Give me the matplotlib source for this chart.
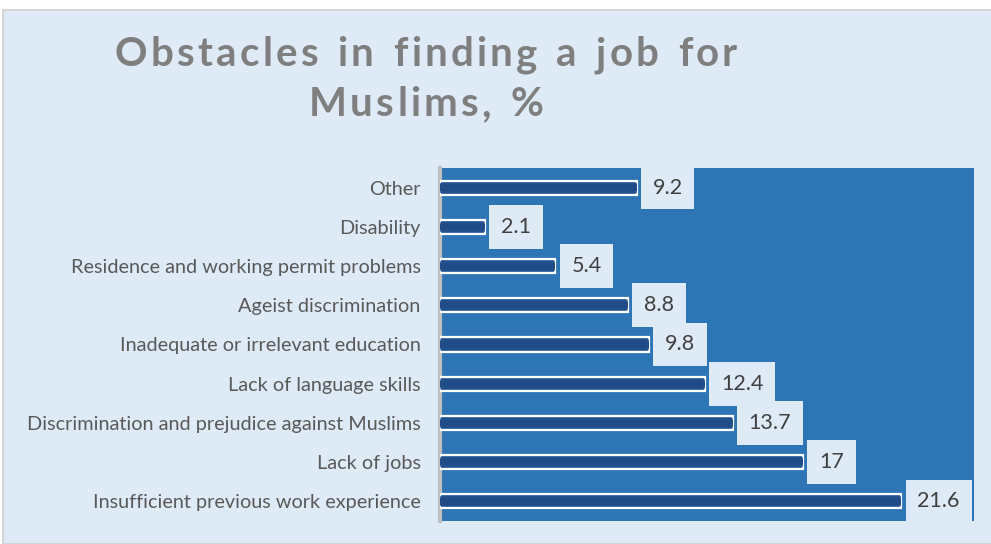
import matplotlib.pyplot as plt
from matplotlib.patches import Rectangle
import numpy as np

categories = [
    "Other",
    "Disability",
    "Residence and working permit problems",
    "Ageist discrimination",
    "Inadequate or irrelevant education",
    "Lack of language skills",
    "Discrimination and prejudice against Muslims",
    "Lack of jobs",
    "Insufficient previous work experience",
]
values = [9.2, 2.1, 5.4, 8.8, 9.8, 12.4, 13.7, 17, 21.6]
value_labels = ["9.2", "2.1", "5.4", "8.8", "9.8", "12.4", "13.7", "17", "21.6"]
title_lines = ["Obstacles in finding a job for", "Muslims, %"]

BG = "#DEEAF6"
PLOT_BG = "#2E75B6"
BAR_EDGE = "#2B5E9E"
BAR = "#1F4B87"
TITLE_C = "#7F7F7F"
TEXT_C = "#595959"

plt.rcParams["font.family"] = ["Lato", "DejaVu Sans"]

W, H = 991, 544
fig = plt.figure(figsize=(W / 100, H / 100), dpi=100)
fig.patch.set_facecolor("white")

# light blue chart area with thin grey border
fig.patches.append(Rectangle((3 / W, 0), 1, 1 - 10 / H, transform=fig.transFigure,
                             facecolor=BG, edgecolor="#D0D0D0", lw=1.2, zorder=-1))

ax = fig.add_axes([440 / W, 1 - 521 / H, 534 / W, 353 / H])
ax.set_zorder(2)
ax.set_facecolor(PLOT_BG)
y = np.arange(len(categories))
# soft-edged bars: lighter rim, darker core, white outline
ax.barh(y, values, height=0.36, color=BAR_EDGE, edgecolor="white", linewidth=1.6, zorder=3)
ax.barh(y, values, height=0.26, color=BAR, alpha=0.7, linewidth=0, zorder=4)
ax.barh(y, values, height=0.16, color=BAR, linewidth=0, zorder=4)
ax.set_xlim(0, 25)
ax.set_ylim(len(categories) - 0.5, -0.5)
ax.set_xticks([])
ax.set_yticks(y)
ax.set_yticklabels(categories, fontsize=14.3, color=TEXT_C)
ax.tick_params(axis="y", length=0, pad=14)
for s in ["top", "right", "bottom"]:
    ax.spines[s].set_visible(False)
ax.spines["left"].set_color("#BFBFBF")
ax.spines["left"].set_linewidth(3)

for yi, v, lab in zip(y, values, value_labels):
    ax.annotate(lab, xy=(v, yi), xytext=(16, 0), textcoords="offset pixels",
                ha="left", va="center", fontsize=15.5, color="#404040", zorder=5,
                bbox=dict(boxstyle="square,pad=0.55", facecolor=BG, edgecolor="none"))

# title drawn letter by letter to get the wide tracking
fig.canvas.draw()
renderer = fig.canvas.get_renderer()
tracking = 3.3
for line, cy in zip(title_lines, [55, 105]):
    widths = []
    for ch in line:
        t = fig.text(0, 0, ch if ch != " " else "n", fontsize=29, fontweight="bold")
        w = t.get_window_extent(renderer).width
        t.remove()
        widths.append(w * (0.55 if ch == " " else 1.0))
    total = sum(widths) + tracking * (len(line) - 1)
    x = 426 - total / 2
    for ch, w in zip(line, widths):
        if ch != " ":
            fig.text(x / W, 1 - cy / H, ch, fontsize=29, fontweight="bold",
                     color=TITLE_C, ha="left", va="center")
        x += w + tracking

fig.savefig("out.png", dpi=100, facecolor=fig.get_facecolor())
